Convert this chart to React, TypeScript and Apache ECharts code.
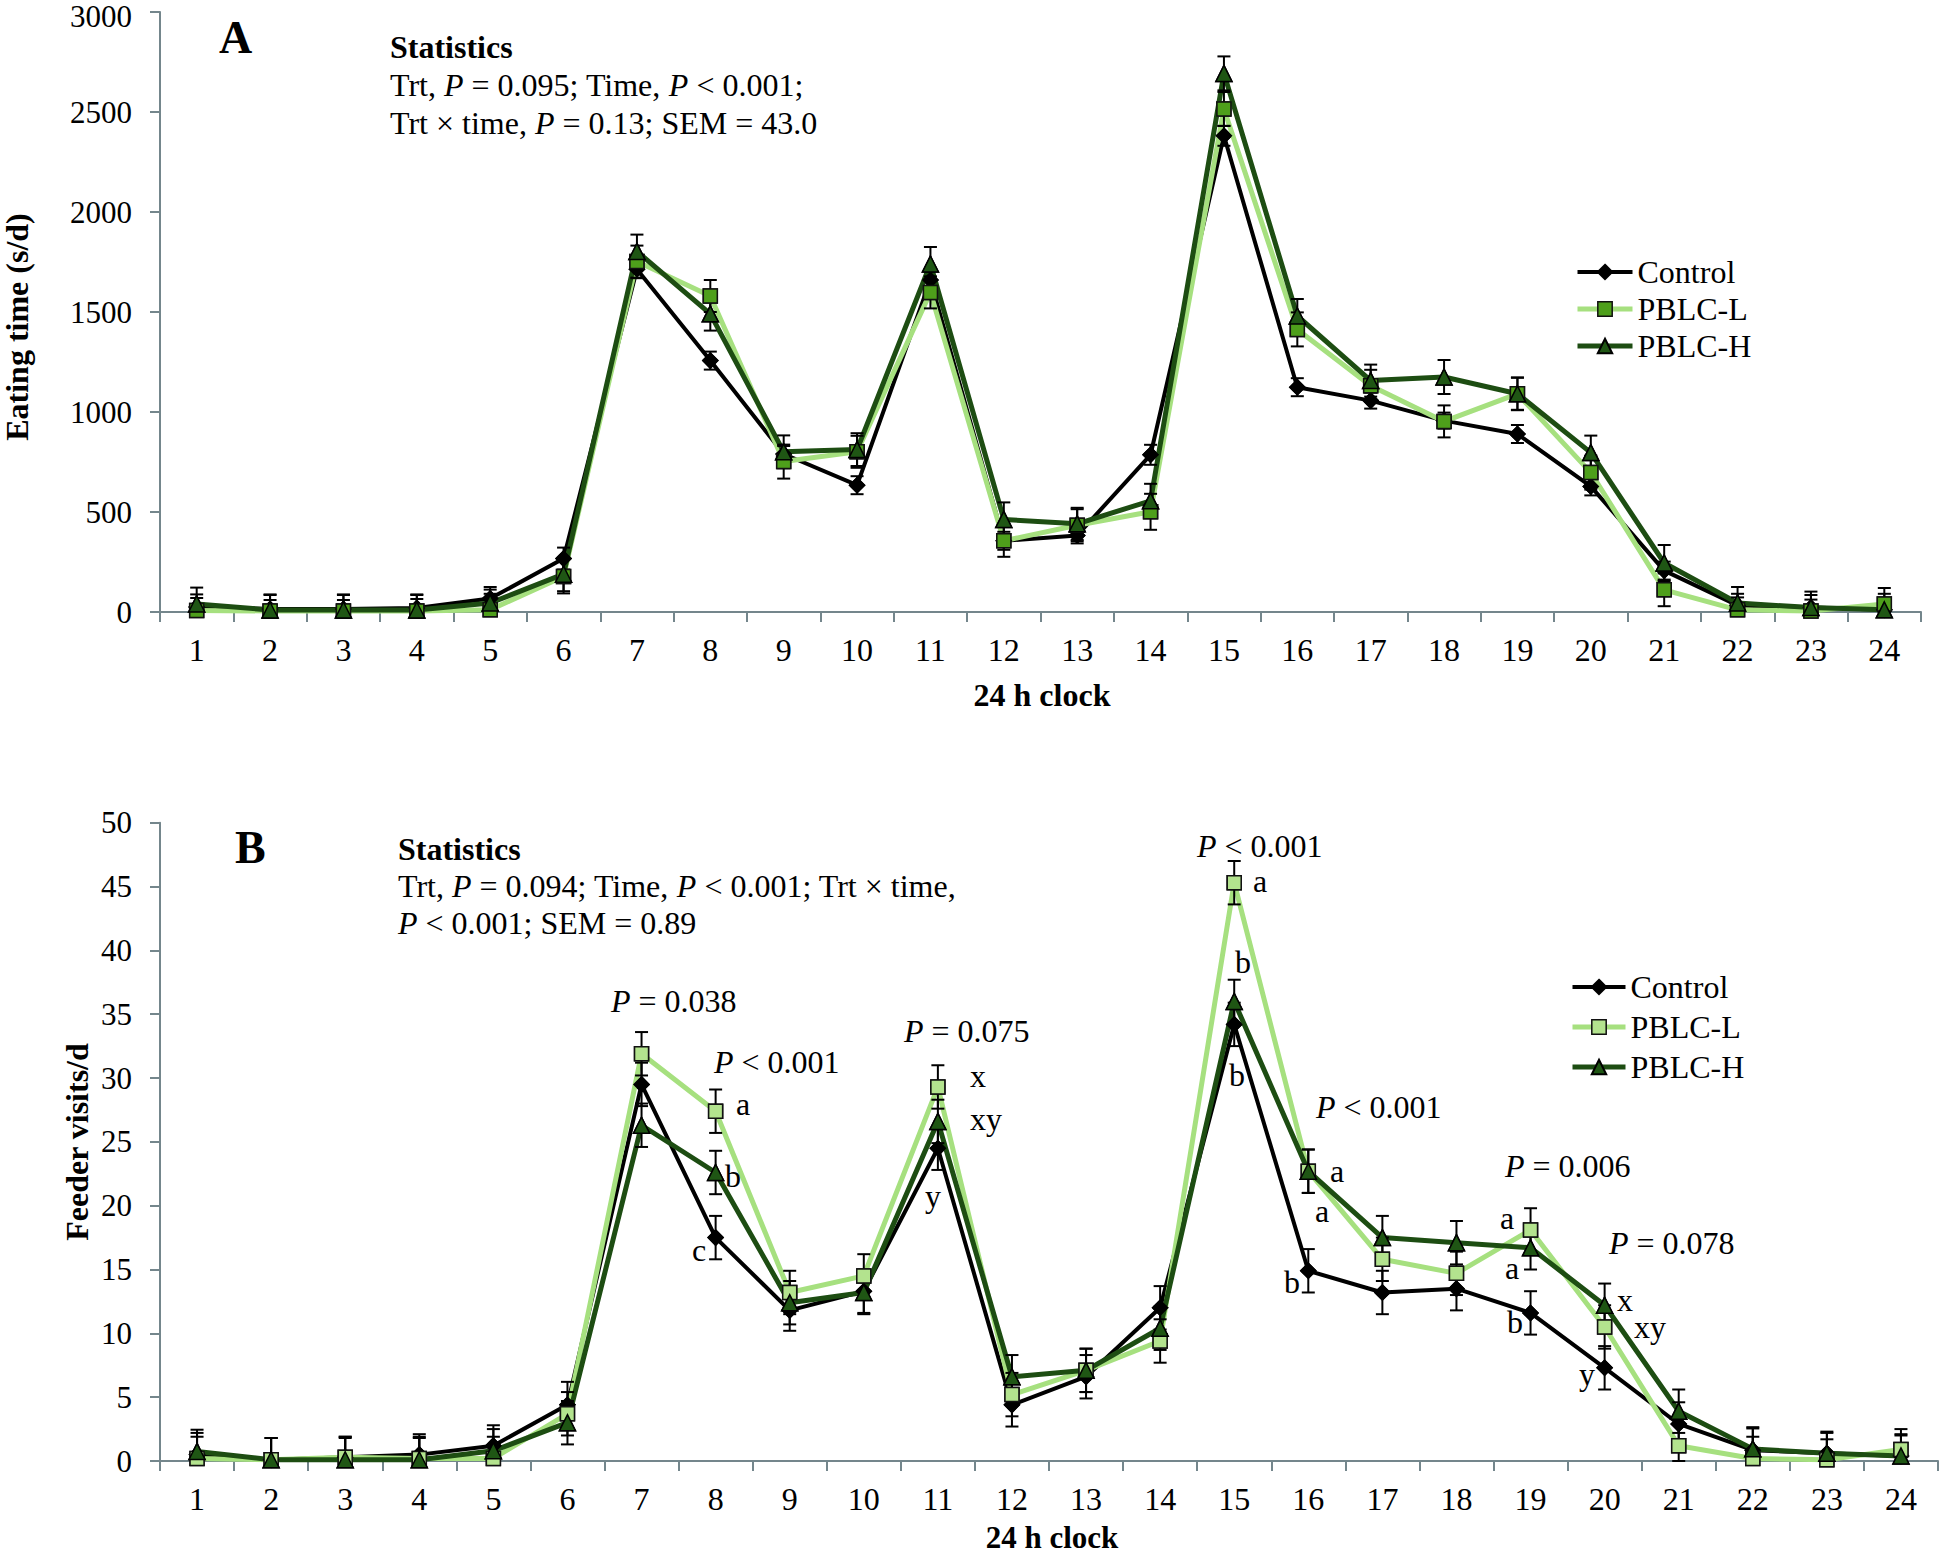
import React, { useEffect, useRef } from 'react';
import * as echarts from 'echarts';

// ---------- data ----------
const hours = ['1', '2', '3', '4', '5', '6', '7', '8', '9', '10', '11', '12', '13', '14', '15', '16', '17', '18', '19', '20', '21', '22', '23', '24'];

// Panel A: eating time (s/d)
const eatControl = [25, 15, 15, 20, 67, 267, 1714, 1257, 790, 634, 1660, 356, 383, 786, 2381, 1124, 1057, 957, 890, 628, 207, 33, 22, 11];
const eatLow = [8, 5, 5, 5, 11, 178, 1752, 1580, 752, 801, 1598, 356, 434, 501, 2515, 1413, 1131, 953, 1091, 697, 111, 11, 5, 40];
const eatHigh = [40, 10, 10, 10, 45, 189, 1803, 1491, 801, 812, 1740, 463, 441, 556, 2693, 1480, 1157, 1175, 1091, 797, 245, 45, 22, 11];
const eatErrControl = [45, 45, 45, 45, 45, 55, 45, 45, 40, 45, 50, 45, 40, 50, 50, 45, 40, 40, 45, 45, 45, 40, 40, 40];
const eatErrLow = [80, 80, 80, 80, 80, 85, 80, 80, 85, 80, 80, 80, 80, 90, 85, 85, 80, 80, 80, 85, 82, 80, 80, 80];
const eatErrHigh = [82, 78, 78, 78, 80, 85, 84, 84, 82, 82, 85, 85, 80, 85, 85, 85, 80, 85, 82, 85, 90, 80, 80, 80];

// Panel B: feeder visits/d
const visControl = [0.5, 0.1, 0.3, 0.5, 1.2, 4.4, 29.5, 17.5, 11.8, 13.3, 24.5, 4.4, 6.6, 12.0, 34.2, 14.9, 13.2, 13.5, 11.6, 7.3, 2.9, 0.85, 0.6, 0.4];
const visLow = [0.2, 0.1, 0.3, 0.2, 0.2, 3.7, 31.9, 27.4, 13.2, 14.5, 29.3, 5.2, 7.1, 9.4, 45.3, 22.7, 15.8, 14.7, 18.1, 10.5, 1.2, 0.2, 0.1, 0.9];
const visHigh = [0.75, 0.1, 0.1, 0.1, 0.8, 3.0, 26.3, 22.6, 12.4, 13.2, 26.6, 6.6, 7.1, 10.4, 36.0, 22.7, 17.5, 17.1, 16.7, 12.2, 3.9, 0.95, 0.6, 0.4];
const visErrControl = [1.7, 1.7, 1.6, 1.6, 1.6, 1.8, 1.7, 1.7, 1.6, 1.7, 1.7, 1.7, 1.7, 1.7, 1.7, 1.7, 1.7, 1.7, 1.7, 1.7, 1.7, 1.7, 1.6, 1.6];
const visErrLow = [1.7, 1.7, 1.6, 1.7, 1.7, 1.7, 1.7, 1.7, 1.7, 1.7, 1.7, 1.7, 1.7, 1.7, 1.7, 1.7, 1.7, 1.7, 1.7, 1.7, 1.7, 1.7, 1.6, 1.6];
const visErrHigh = [1.7, 1.7, 1.7, 1.7, 1.7, 1.7, 1.7, 1.7, 1.7, 1.7, 1.7, 1.7, 1.7, 1.7, 1.7, 1.7, 1.7, 1.7, 1.7, 1.7, 1.7, 1.7, 1.7, 1.7];

// B annotations: [text, x, y]
const annotationsB: [string, number, number][] = [
  ['{i|P} = 0.038', 611, 1001],
  ['{i|P} < 0.001', 714, 1062],
  ['a', 736, 1104],
  ['b', 725, 1176],
  ['c', 692, 1250],
  ['{i|P} = 0.075', 904, 1031],
  ['x', 970, 1076],
  ['xy', 970, 1119],
  ['y', 925, 1196],
  ['{i|P} < 0.001', 1197, 846],
  ['a', 1253, 881],
  ['b', 1235, 962],
  ['b', 1229, 1075],
  ['{i|P} < 0.001', 1316, 1107],
  ['a', 1330, 1171],
  ['a', 1315, 1211],
  ['b', 1284, 1282],
  ['{i|P} = 0.006', 1505, 1166],
  ['a', 1500, 1218],
  ['a', 1505, 1268],
  ['b', 1507, 1322],
  ['{i|P} = 0.078', 1609, 1243],
  ['x', 1617, 1300],
  ['xy', 1634, 1327],
  ['y', 1579, 1374],
];

// ---------- styles ----------
const FONT = '"Liberation Serif", "Times New Roman", serif';
const AXIS_COLOR = '#74868c';
const C_BLACK = '#000000';
const C_LIGHT = '#a6e07f';
const C_SQ_A = '#4e9f1b';
const C_SQ_B = '#b3e38e';
const C_DARK = '#1d4d12';
const C_TRI = '#1f5614';

function errData(mean: number[], err: number[]) {
  return mean.map((m, i) => [i, Math.max(0, m - err[i]), m + err[i]]);
}

function errRender(params: any, api: any) {
  const i = api.value(0);
  const lo = api.coord([i, api.value(1)]);
  const hi = api.coord([i, api.value(2)]);
  const w = 6.5;
  const st = { stroke: '#000', lineWidth: 2 };
  return {
    type: 'group',
    children: [
      { type: 'line', shape: { x1: lo[0], y1: lo[1], x2: hi[0], y2: hi[1] }, style: st },
      { type: 'line', shape: { x1: lo[0] - w, y1: lo[1], x2: lo[0] + w, y2: lo[1] }, style: st },
      { type: 'line', shape: { x1: hi[0] - w, y1: hi[1], x2: hi[0] + w, y2: hi[1] }, style: st },
    ],
  };
}

function panelSeries(idx: number, vals: number[][], errs: number[][], squareFill: string) {
  const defs = [
    { name: 'Control', line: C_BLACK, width: 4, symbol: 'diamond', size: 15, fill: C_BLACK, border: C_BLACK },
    { name: 'PBLC-L', line: C_LIGHT, width: 5, symbol: 'rect', size: 14, fill: squareFill, border: '#111' },
    { name: 'PBLC-H', line: C_DARK, width: 5, symbol: 'triangle', size: 16, fill: C_TRI, border: '#000' },
  ];
  const out: any[] = [];
  defs.forEach((d, k) => {
    out.push({
      name: d.name,
      type: 'line',
      xAxisIndex: idx,
      yAxisIndex: idx,
      data: vals[k],
      z: 2 + k * 0.1,
      symbol: d.symbol,
      symbolSize: d.size,
      showAllSymbol: true,
      lineStyle: { color: d.line, width: d.width },
      itemStyle: { color: d.fill, borderColor: d.border, borderWidth: 1.5 },
      emphasis: { disabled: true },
    });
  });
  defs.forEach((d, k) => {
    out.push({
      name: d.name + '-err' + idx,
      type: 'custom',
      xAxisIndex: idx,
      yAxisIndex: idx,
      renderItem: errRender,
      encode: { x: 0, y: [1, 2] },
      data: errData(vals[k], errs[k]),
      z: 3,
      silent: true,
    });
  });
  defs.forEach((d, k) => {
    out.push({
      name: d.name + '-mk' + idx,
      type: 'scatter',
      xAxisIndex: idx,
      yAxisIndex: idx,
      data: vals[k],
      z: 4 + k * 0.1,
      symbol: d.symbol,
      symbolSize: d.size,
      itemStyle: { color: d.fill, borderColor: d.border, borderWidth: 1.5, opacity: 1 },
      silent: true,
    });
  });
  return out;
}

function xAxisCfg(gridIndex: number) {
  return {
    gridIndex,
    type: 'category',
    data: hours,
    boundaryGap: true,
    axisLine: { show: true, lineStyle: { color: AXIS_COLOR, width: 2 } },
    axisTick: { show: true, length: 10, lineStyle: { color: AXIS_COLOR, width: 2 } },
    axisLabel: { interval: 0, color: '#000', fontFamily: FONT, fontSize: 32, margin: 22 },
    splitLine: { show: false },
  };
}

function yAxisCfg(gridIndex: number, max: number, interval: number, nudgeTop: boolean) {
  return {
    gridIndex,
    type: 'value',
    min: 0,
    max,
    interval,
    axisLine: { show: true, lineStyle: { color: AXIS_COLOR, width: 2 } },
    axisTick: { show: true, length: 10, lineStyle: { color: AXIS_COLOR, width: 2 } },
    axisLabel: {
      color: '#000',
      fontFamily: FONT,
      fontSize: 31,
      lineHeight: 22,
      margin: 28,
      formatter: (v: number) => (nudgeTop && v === max ? '{t|' + v + '}' : String(v)),
      rich: {
        t: { fontFamily: FONT, fontSize: 31, lineHeight: 22, color: '#000', padding: [8, 0, 0, 0] },
      },
    },
    splitLine: { show: false },
  };
}

function txt(text: string, x: number, y: number, opts: any = {}) {
  const size = opts.size || 32;
  return {
    type: 'text',
    x,
    y,
    rotation: opts.rotation || 0,
    z: 10,
    style: {
      text,
      fontFamily: FONT,
      fontSize: size,
      lineHeight: opts.lh || undefined,
      fontWeight: opts.bold ? 'bold' : 'normal',
      fill: '#000',
      align: opts.align || 'left',
      verticalAlign: 'middle',
      rich: {
        i: { fontFamily: FONT, fontSize: size, fontStyle: 'italic', fill: '#000' },
      },
    },
  };
}

function legendCfg(top: number, left: number, itemWidth: number, gap: number, squareFill: string) {
  return {
    orient: 'vertical',
    left,
    top,
    padding: 0,
    itemWidth,
    itemHeight: 18,
    itemGap: gap,
    selectedMode: false,
    textStyle: { fontFamily: FONT, fontSize: 32, color: '#000' },
    lineStyle: { width: 'inherit' },
    data: [
      { name: 'Control' },
      { name: 'PBLC-L', itemStyle: { color: squareFill, borderColor: '#111', borderWidth: 1.5 } },
      { name: 'PBLC-H' },
    ],
  };
}

export default function App() {
  const ref = useRef<HTMLDivElement>(null);
  useEffect(() => {
    if (!ref.current) return;
    const chart = echarts.init(ref.current, null, { renderer: 'svg' });
    const graphics: any[] = [
      txt('A', 219, 37, { bold: true, size: 46 }),
      txt('Statistics', 390, 47, { bold: true }),
      txt('Trt, {i|P} = 0.095; Time, {i|P} < 0.001;', 390, 85),
      txt('Trt × time, {i|P} = 0.13; SEM = 43.0', 390, 123),
      txt('B', 235, 847, { bold: true, size: 46 }),
      txt('Statistics', 398, 849, { bold: true }),
      txt('Trt, {i|P} = 0.094; Time, {i|P} < 0.001; Trt × time,', 398, 886),
      txt('{i|P} < 0.001; SEM = 0.89', 398, 923),
      txt('Eating time (s/d)', 17, 327, { bold: true, align: 'center', rotation: Math.PI / 2, lh: 26 }),
      txt('Feeder visits/d', 77, 1142, { bold: true, align: 'center', rotation: Math.PI / 2, lh: 26 }),
      txt('24 h clock', 1042, 695, { bold: true, align: 'center', lh: 24 }),
      txt('24 h clock', 1052, 1537, { bold: true, align: 'center', lh: 22, size: 31 }),
      ...annotationsB.map(([t, x, y]) => txt(t, x, y)),
    ];
    chart.setOption({
      animation: false,
      backgroundColor: '#ffffff',
      grid: [
        { left: 160, top: 12, width: 1761, height: 600, outerBoundsMode: 'none', containLabel: false },
        { left: 160, top: 822.7, width: 1778, height: 638.3, outerBoundsMode: 'none', containLabel: false },
      ],
      xAxis: [xAxisCfg(0), xAxisCfg(1)],
      yAxis: [yAxisCfg(0, 3000, 500, true), yAxisCfg(1, 50, 5, false)],
      legend: [legendCfg(256, 1575, 55, 5, C_SQ_A), legendCfg(971, 1570, 53, 8, C_SQ_B)],
      series: [
        ...panelSeries(0, [eatControl, eatLow, eatHigh], [eatErrControl, eatErrLow, eatErrHigh], C_SQ_A),
        ...panelSeries(1, [visControl, visLow, visHigh], [visErrControl, visErrLow, visErrHigh], C_SQ_B),
      ],
      graphic: graphics,
    });
    return () => chart.dispose();
  }, []);
  return <div ref={ref} style={{ position: 'fixed', left: 0, top: 0, width: 1945, height: 1554 }} />;
}
